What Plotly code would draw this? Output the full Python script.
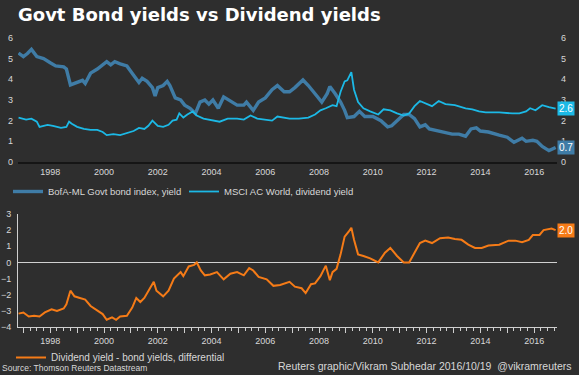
import plotly.graph_objects as go

# ---------------- data ----------------
bond_t = [1996.82, 1997.0, 1997.15, 1997.3, 1997.5, 1997.75, 1998.0, 1998.2, 1998.5, 1998.6, 1998.75,
          1998.9, 1999.2, 1999.3, 1999.5, 1999.75, 2000.1, 2000.25, 2000.4, 2000.6, 2000.85, 2001.1,
          2001.3, 2001.42, 2001.6, 2001.8, 2001.9, 2002.0, 2002.2, 2002.35, 2002.45, 2002.65, 2002.85,
          2003.0, 2003.2, 2003.4, 2003.57, 2003.75, 2003.9, 2004.05, 2004.25, 2004.45, 2004.7, 2004.95,
          2005.2, 2005.3, 2005.55, 2005.75, 2006.0, 2006.25, 2006.45, 2006.7, 2006.9, 2007.1, 2007.4,
          2007.6, 2007.85, 2008.1, 2008.3, 2008.4, 2008.6, 2008.8, 2008.95, 2009.05, 2009.3, 2009.5,
          2009.7, 2010.0, 2010.3, 2010.55, 2010.7, 2010.9, 2011.15, 2011.35, 2011.55, 2011.75, 2011.95,
          2012.1, 2012.45, 2012.7, 2012.95, 2013.2, 2013.45, 2013.65, 2013.85, 2014.0, 2014.3, 2014.7,
          2015.0, 2015.25, 2015.45, 2015.55, 2015.7, 2015.95, 2016.1, 2016.3, 2016.55, 2016.8]
bond_v = [5.27, 5.1, 5.25, 5.45, 5.1, 5.0, 4.8, 4.65, 4.6, 4.5, 3.73,
          3.8, 3.95, 3.8, 4.3, 4.5, 4.86, 4.7, 4.85, 4.75, 4.65, 4.2,
          3.85, 4.05, 3.9, 3.6, 3.2, 3.6, 3.7, 3.9, 3.7, 3.1, 3.0,
          2.75, 2.6, 2.35, 2.9, 3.0, 2.8, 3.0, 2.6, 3.15, 2.95, 2.75,
          2.75, 2.9, 2.5, 2.9, 3.1, 3.5, 3.7, 3.4, 3.4, 3.6, 3.97,
          3.7, 3.3, 2.9, 3.3, 3.65, 3.3, 2.9, 2.5, 2.15, 2.2, 2.45,
          2.2, 2.2, 2.0, 1.7, 1.75, 2.0, 2.3, 2.3, 2.1, 1.7, 1.8,
          1.6, 1.5, 1.4, 1.35, 1.35, 1.25, 1.6, 1.65, 1.5, 1.45, 1.3,
          1.2, 0.95, 1.1, 1.15, 1.0, 1.05, 1.0, 0.75, 0.55, 0.7]

div_t = [1996.82, 1997.1, 1997.3, 1997.5, 1997.6, 1997.9, 1998.1, 1998.4, 1998.6, 1998.7, 1998.8,
         1999.0, 1999.25, 1999.5, 1999.75, 1999.95, 2000.1, 2000.35, 2000.6, 2000.85, 2001.1, 2001.3,
         2001.5, 2001.65, 2001.8, 2002.0, 2002.2, 2002.4, 2002.55, 2002.7, 2002.8, 2002.95, 2003.1,
         2003.3, 2003.45, 2003.7, 2004.05, 2004.3, 2004.6, 2004.95, 2005.2, 2005.45, 2005.7, 2006.05,
         2006.25, 2006.45, 2006.7, 2006.9, 2007.25, 2007.6, 2007.85, 2008.05, 2008.25, 2008.5, 2008.65,
         2008.8, 2008.95, 2009.05, 2009.2, 2009.3, 2009.45, 2009.65, 2009.9, 2010.2, 2010.4, 2010.65,
         2010.9, 2011.15, 2011.35, 2011.55, 2011.75, 2011.95, 2012.2, 2012.45, 2012.7, 2013.05, 2013.45,
         2013.7, 2013.95, 2014.2, 2014.7, 2015.2, 2015.45, 2015.7, 2015.85, 2016.05, 2016.3, 2016.55, 2016.8]
div_v = [2.15, 2.05, 2.1, 1.95, 1.7, 1.8, 1.75, 1.65, 1.7, 1.95, 1.85,
         1.7, 1.6, 1.55, 1.55, 1.45, 1.3, 1.35, 1.3, 1.4, 1.5, 1.65,
         1.6, 1.75, 2.0, 1.75, 1.7, 1.8, 2.0, 2.05, 2.35, 2.15, 2.3,
         2.45, 2.25, 2.1, 2.0, 1.95, 2.1, 2.1, 2.05, 2.25, 2.1, 2.05,
         2.0, 2.2, 2.15, 2.1, 2.1, 2.15, 2.3, 2.5, 2.6, 2.75, 2.7,
         3.4, 3.9, 3.95, 4.35, 3.5, 2.9, 2.6, 2.45, 2.3, 2.55, 2.5,
         2.35, 2.25, 2.35, 2.7, 2.95, 2.85, 2.7, 2.95, 2.8, 2.75, 2.6,
         2.55, 2.45, 2.4, 2.4, 2.35, 2.35, 2.45, 2.6, 2.5, 2.75, 2.65, 2.58]

diff_t = [1996.82, 1997.0, 1997.2, 1997.4, 1997.6, 1997.8, 1998.05, 1998.25, 1998.5, 1998.6, 1998.75,
          1998.9, 1999.1, 1999.3, 1999.5, 1999.75, 1999.95, 2000.1, 2000.3, 2000.45, 2000.6, 2000.85,
          2001.05, 2001.2, 2001.35, 2001.5, 2001.7, 2001.85, 2001.95, 2002.2, 2002.4, 2002.6, 2002.85,
          2002.95, 2003.15, 2003.35, 2003.45, 2003.6, 2003.75, 2003.95, 2004.2, 2004.45, 2004.7, 2004.95,
          2005.2, 2005.4, 2005.55, 2005.75, 2006.05, 2006.3, 2006.55, 2006.8, 2006.9, 2007.1, 2007.35,
          2007.5, 2007.7, 2007.85, 2008.05, 2008.25, 2008.4, 2008.5, 2008.65, 2008.8, 2008.95, 2009.1,
          2009.2, 2009.3, 2009.45, 2009.65, 2009.9, 2010.2, 2010.45, 2010.65, 2010.9, 2011.15, 2011.35,
          2011.55, 2011.75, 2011.95, 2012.2, 2012.5, 2012.8, 2013.05, 2013.3, 2013.55, 2013.8, 2014.05,
          2014.3, 2014.7, 2015.05, 2015.3, 2015.55, 2015.8, 2015.95, 2016.2, 2016.35, 2016.65, 2016.8]
diff_v = [-3.17, -3.1, -3.35, -3.3, -3.35, -3.1, -2.9, -3.0, -2.85, -2.6, -1.75,
          -2.1, -2.2, -2.3, -2.7, -3.0, -3.2, -3.55, -3.4, -3.55, -3.35, -3.3,
          -2.8, -2.2, -2.45, -2.2, -1.6, -1.2, -1.75, -2.1, -1.75, -1.0, -0.6,
          -0.85, -0.25, -0.15, 0.0, -0.5, -0.8, -0.75, -0.6, -1.05, -0.7, -0.6,
          -0.8, -0.35, -0.5, -0.9, -1.05, -1.45, -1.4, -1.25, -1.2, -1.5, -1.6,
          -1.9, -1.35, -1.3, -0.85, -0.2, -1.1, -0.6, -0.4, 0.5, 1.6, 1.9,
          2.15, 1.4, 0.5, 0.4, 0.25, 0.0, 0.6, 0.9, 0.4, 0.0, 0.0,
          0.6, 1.2, 1.35, 1.2, 1.5, 1.55, 1.45, 1.4, 1.1, 0.9, 0.9,
          1.05, 1.1, 1.35, 1.35, 1.25, 1.4, 1.7, 1.7, 2.0, 2.1, 2.0]

year_ticks = list(range(1997, 2017))
year_labels = [str(y) if y % 2 == 0 else "" for y in year_ticks]
top_y_ticks = [0, 1, 2, 3, 4, 5, 6]
bot_y_ticks = [-4, -3, -2, -1, 0, 1, 2, 3]

bond_name = "BofA-ML Govt bond index, yield"
div_name = "MSCI AC World, dividend yield"
diff_name = "Dividend yield - bond yields, differential"

# ---------------- styling ----------------
BG = "#2e2e2e"
C_BOND = "#3f7ca6"
C_DIV = "#1cb9e6"
C_DIFF = "#f57b17"
TXT = "#d8d8d8"
FONT = "Liberation Sans, Arial, sans-serif"

W, H = 579, 375
xl, xr = 18 / W, 557 / W
top_dom = [1 - 162 / H, 1 - 38 / H]
bot_dom = [1 - 327 / H, 1 - 214 / H]
XR = [1996.8, 2016.85]

fig = go.Figure()
fig.add_trace(go.Scatter(x=bond_t, y=bond_v, mode="lines", name=bond_name,
                         line=dict(color=C_BOND, width=3.4), xaxis="x", yaxis="y", legend="legend"))
fig.add_trace(go.Scatter(x=div_t, y=div_v, mode="lines", name=div_name,
                         line=dict(color=C_DIV, width=1.8), xaxis="x", yaxis="y", legend="legend"))
fig.add_trace(go.Scatter(x=diff_t, y=diff_v, mode="lines", name=diff_name,
                         line=dict(color=C_DIFF, width=2), xaxis="x2", yaxis="y3", legend="legend2"))
# invisible trace so that the right-hand axis renders
fig.add_trace(go.Scatter(x=[bond_t[0]], y=[bond_v[0]], mode="lines", yaxis="y2", xaxis="x",
                         showlegend=False, line=dict(width=0), hoverinfo="skip"))

tickfont = dict(family=FONT, size=9, color=TXT)

fig.update_layout(
    width=W, height=H,
    margin=dict(l=0, r=0, t=0, b=0),
    paper_bgcolor=BG, plot_bgcolor=BG,
    font=dict(family=FONT, color=TXT, size=10),
    showlegend=True,
    hovermode=False,
    xaxis=dict(domain=[xl, xr], range=XR, anchor="y", tickvals=year_ticks, ticktext=year_labels,
               showgrid=False, zeroline=False, showline=True, linecolor="#151515", linewidth=1.5,
               ticks="", tickfont=tickfont, automargin=False),
    yaxis=dict(domain=top_dom, range=[0, 6], tickvals=top_y_ticks, showgrid=False, zeroline=False,
               showline=False, ticks="", tickfont=tickfont, automargin=False, ticklabelstandoff=4),
    yaxis2=dict(overlaying="y", side="right", range=[0, 6], tickvals=top_y_ticks, showgrid=False,
                zeroline=False, showline=False, ticks="", tickfont=tickfont, automargin=False,
                anchor="x", ticklabelstandoff=3),
    xaxis2=dict(domain=[xl, xr], range=XR, anchor="y3", tickvals=year_ticks, ticktext=year_labels,
                showgrid=False, zeroline=False, showline=True, linecolor="#cfcfcf", linewidth=1,
                ticks="outside", ticklen=5, tickcolor="#cfcfcf", tickwidth=1,
                minor=dict(dtick=0.25, tick0=1997, ticks="outside", ticklen=3, tickcolor="#cfcfcf"),
                tickfont=tickfont, automargin=False),
    yaxis3=dict(domain=bot_dom, range=[-4, 3], tickvals=bot_y_ticks, showgrid=False, zeroline=True,
                zerolinecolor="#d0d0d0", zerolinewidth=1, showline=True, linecolor="#cfcfcf",
                linewidth=1, ticks="", tickfont=tickfont, automargin=False, anchor="x2",
                ticklabelstandoff=4),
    legend=dict(orientation="h", x=8 / W, y=1 - 177 / H, xanchor="left", yanchor="top",
                bgcolor="rgba(0,0,0,0)", font=dict(family=FONT, size=9.5, color=TXT),
                itemwidth=30, entrywidth=131, tracegroupgap=0),
    legend2=dict(orientation="h", x=11 / W, y=1 - 343 / H, xanchor="left", yanchor="top",
                 bgcolor="rgba(0,0,0,0)", font=dict(family=FONT, size=10, color=TXT), itemwidth=30),
)

fig.add_annotation(text="<b>Govt Bond yields vs Dividend yields</b>", xref="paper", yref="paper",
                   x=16 / W, y=1 - 2 / H, xanchor="left", yanchor="top", showarrow=False,
                   font=dict(family="DejaVu Sans, sans-serif", size=18, color="#ffffff"))

# end-value tags
for val, col, yref in [(div_v[-1], C_DIV, "y"), (bond_v[-1], C_BOND, "y"), (diff_v[-1], C_DIFF, "y3")]:
    fig.add_annotation(text=f"{val:.1f}", xref="paper", yref=yref, x=557 / W, y=val,
                       xanchor="left", yanchor="middle", showarrow=False, bgcolor=col,
                       font=dict(family=FONT, size=10, color="#ffffff"), borderpad=1)

fig.add_annotation(text="Source: Thomson Reuters Datastream", xref="paper", yref="paper",
                   x=0, y=0, xanchor="left", yanchor="bottom", showarrow=False,
                   font=dict(family=FONT, size=8.5, color=TXT))
fig.add_annotation(text="Reuters graphic/Vikram Subhedar 2016/10/19  @vikramreuters", xref="paper",
                   yref="paper", x=1 - 5 / W, y=0.003, xanchor="right", yanchor="bottom",
                   showarrow=False, font=dict(family=FONT, size=10.5, color=TXT))

fig.write_html("out.html", config={"displayModeBar": False},
               post_script="document.body.style.margin='0px';document.body.style.overflow='hidden';")
